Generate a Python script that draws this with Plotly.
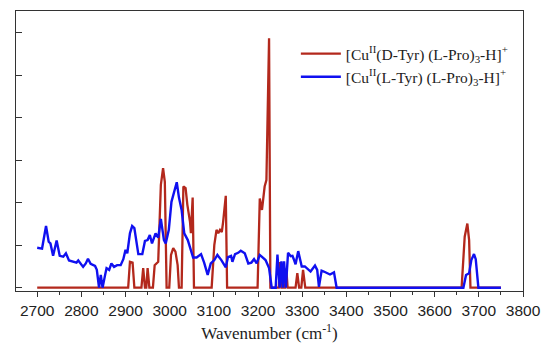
import plotly.graph_objects as go

# ---- data ----
d_tyr_wn = [2700, 2906, 2910, 2916, 2920, 2936, 2940, 2944, 2947, 2950, 2954, 2962, 2966, 2974,
            2980, 2985, 2989, 2993, 2999, 3003, 3008, 3013, 3018, 3021, 3027, 3031, 3036, 3040,
            3046, 3048, 3052, 3055, 3095, 3101, 3106, 3110, 3114, 3118, 3121, 3127, 3130, 3199,
            3204, 3209, 3215, 3219, 3225, 3228, 3247, 3250, 3253, 3261, 3264, 3267, 3285, 3289,
            3293, 3298, 3302, 3307, 3661, 3668, 3674, 3678, 3681, 3750]
d_tyr_int = [0, 0, 0.61, 0.59, 0, 0, 0.46, 0, 0, 0.46, 0, 0, 0.53, 0.61,
             2.42, 2.81, 2.49, 0, 0, 0.77, 0.93, 0.85, 0.53, 0, 0, 2.38, 2.34, 1.95,
             1.55, 1.28, 2.12, 0, 0, 1.0, 1.36, 1.28, 1.36, 1.31, 1.55, 2.16, 0, 0,
             2.10, 1.83, 2.38, 2.53, 5.87, 0, 0, 0.6, 0, 0, 0.45, 0, 0, 0.34,
             0, 0, 0.42, 0, 0, 1.2, 1.51, 1.12, 0, 0]

l_tyr_wn = [2700, 2711, 2720, 2726, 2730, 2736, 2744, 2751, 2759, 2765, 2772, 2781, 2789, 2793,
            2798, 2804, 2810, 2815, 2821, 2831, 2835, 2840, 2844, 2848, 2853, 2857, 2863, 2868,
            2874, 2881, 2889, 2895, 2900, 2904, 2910, 2915, 2920, 2926, 2929, 2938, 2944, 2950,
            2955, 2960, 2968, 2974, 2980, 2987, 2991, 2998, 3004, 3016, 3021, 3027, 3033, 3041,
            3048, 3053, 3061, 3066, 3071, 3078, 3086, 3093, 3101, 3108, 3117, 3127, 3132, 3139,
            3142, 3148, 3155, 3161, 3170, 3178, 3185, 3191, 3197, 3204, 3212, 3217, 3225, 3231,
            3240, 3244, 3249, 3253, 3256, 3259, 3263, 3268, 3274, 3278, 3281, 3285, 3291, 3299,
            3306, 3314, 3319, 3329, 3334, 3338, 3344, 3349, 3357, 3363, 3372, 3378, 3665, 3671,
            3678, 3683, 3689, 3693, 3699, 3750]
l_tyr_int = [0.94, 0.92, 1.45, 1.08, 1.04, 0.75, 1.11, 0.75, 0.73, 0.81, 0.64, 0.61, 0.59, 0.64,
             0.57, 0.49, 0.57, 0.68, 0.56, 0.51, 0.42, 0.0, 0.30, 0.0, 0.26, 0.46, 0.42, 0.57,
             0.49, 0.53, 0.53, 0.67, 0.89, 0.81, 1.28, 1.45, 1.40, 1.0, 0.79, 0.79, 1.10, 1.12,
             1.24, 1.04, 1.28, 1.18, 1.62, 1.12, 1.04, 1.36, 2.02, 2.48, 2.12, 1.83, 1.28, 1.12,
             0.85, 0.71, 0.71, 0.75, 0.79, 0.59, 0.30, 0.57, 0.65, 0.77, 0.65, 0.48, 0.72, 0.75,
             0.61, 0.79, 0.82, 0.87, 0.81, 0.57, 0.59, 0.67, 0.57, 0.77, 0.69, 0.65, 0.46, 0.0,
             0.0, 0.78, 0.0, 0.62, 0.0, 0.62, 0.0, 0.82, 0.74, 0.75, 0.67, 0.55, 0.86, 0.50,
             0.50, 0.42, 0.38, 0.52, 0.42, 0.02, 0.40, 0.38, 0.35, 0.31, 0.36, 0.0, 0.0, 0.30,
             0.34, 0.65, 0.79, 0.67, 0.0, 0.0]

series_names = ["[Cu<sup>II</sup>(D-Tyr) (L-Pro)<sub>3</sub>-H]<sup>+</sup>",
                "[Cu<sup>II</sup>(L-Tyr) (L-Pro)<sub>3</sub>-H]<sup>+</sup>"]
x_ticks = [2700, 2800, 2900, 3000, 3100, 3200, 3300, 3400, 3500, 3600, 3700, 3800]
x_minor = [2750, 2850, 2950, 3050, 3150, 3250, 3350, 3450, 3550, 3650, 3750]

fig = go.Figure()
fig.add_trace(go.Scatter(x=d_tyr_wn, y=d_tyr_int, mode="lines", name=series_names[0],
                         legendgroup="d", line=dict(color="#b3281c", width=2.3)))
fig.add_trace(go.Scatter(x=l_tyr_wn, y=l_tyr_int, mode="lines", name=series_names[1],
                         legendgroup="l", line=dict(color="#1010f0", width=2.4)))

# the page body has an 8px default margin, so the figure is 8px smaller and margins compensated
fig.update_layout(
    template="none",
    width=542, height=338,
    margin=dict(l=8, r=27, t=3, b=55, autoexpand=False),
    paper_bgcolor="white", plot_bgcolor="white",
    showlegend=True,
    legend=dict(x=0.552, y=0.907, xanchor="left", yanchor="top",
                bgcolor="rgba(0,0,0,0)", borderwidth=0,
                font=dict(family="Liberation Serif", size=15.5, color="#222"),
                itemwidth=40, tracegroupgap=0),
    xaxis=dict(range=[2652, 3800], tickmode="array", tickvals=x_ticks,
               ticktext=[str(v) for v in x_ticks], automargin=False,
               ticks="outside", ticklen=5, tickwidth=1, tickcolor="#333",
               minor=dict(tickvals=x_minor, ticks="outside", ticklen=3, tickwidth=1,
                          tickcolor="#333", showgrid=False),
               showline=True, linecolor="#333", linewidth=1.2, mirror=True,
               showgrid=False, zeroline=False,
               tickfont=dict(family="Liberation Sans", size=15.5, color="#222"),
               title=dict(text="Wavenumber (cm<sup>-1</sup>)", standoff=9,
                          font=dict(family="Liberation Serif", size=17, color="#222"))),
    yaxis=dict(range=[-0.078, 6.51], tickmode="array", tickvals=[0, 1, 2, 3, 4, 5, 6],
               showticklabels=False, ticks="inside", ticklen=6, tickwidth=1, tickcolor="#333",
               showline=True, linecolor="#333", linewidth=1.2, mirror=True, automargin=False,
               showgrid=False, zeroline=False),
)

fig.write_html("out.html")
